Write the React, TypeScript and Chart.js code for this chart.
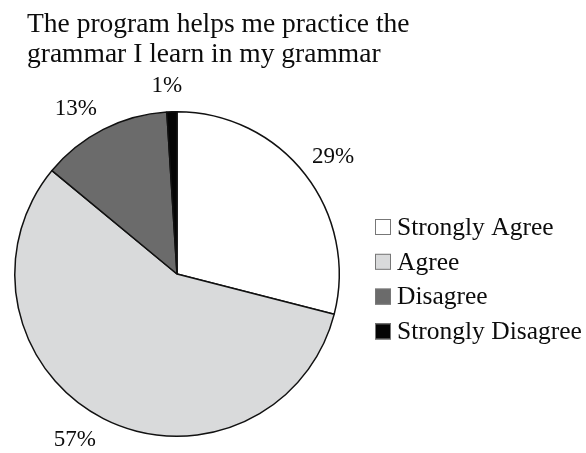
import React, { useEffect, useRef } from "react";
import { Chart, registerables } from "chart.js";

Chart.register(...registerables);

const titleLines = ["The program helps me practice the", "grammar I learn in my grammar"];
const categories = ["Strongly Agree", "Agree", "Disagree", "Strongly Disagree"];
const percentages = [29, 57, 13, 1];
const sliceColors = ["#ffffff", "#d9dadb", "#6b6b6b", "#050505"];

const SERIF = '"Liberation Serif", "Times New Roman", serif';
// label placement tweaks (px), purely presentational
const labelNudges: [number, number][] = [
  [1, 3],
  [-13, -9],
  [-12, 10],
  [-4, 8],
];

const overlayPlugin = {
  id: "overlay",
  afterDraw(chart: any) {
    const ctx = chart.ctx as CanvasRenderingContext2D;
    ctx.save();
    // title
    ctx.fillStyle = "#0c0c0c";
    ctx.font = `27.5px ${SERIF}`;
    ctx.textAlign = "left";
    ctx.textBaseline = "alphabetic";
    titleLines.forEach((line, i) => ctx.fillText(line, 27, 32 + i * 30));

    // percentage labels
    const meta = chart.getDatasetMeta(0);
    ctx.font = `23px ${SERIF}`;
    ctx.textAlign = "center";
    ctx.textBaseline = "middle";
    meta.data.forEach((arc: any, i: number) => {
      const { x, y, startAngle, endAngle, outerRadius } = arc.getProps(
        ["x", "y", "startAngle", "endAngle", "outerRadius"],
        true
      );
      const mid = (startAngle + endAngle) / 2;
      const r = outerRadius + 34;
      const [nx, ny] = labelNudges[i] || [0, 0];
      ctx.fillText(
        `${chart.data.datasets[0].data[i]}%`,
        x + Math.cos(mid) * r + nx,
        y + Math.sin(mid) * r + ny
      );
    });

    // legend
    ctx.font = `25.5px ${SERIF}`;
    ctx.textAlign = "left";
    ctx.textBaseline = "middle";
    const lx = 375;
    const ly = 219;
    const step = 34.8;
    const box = 16;
    chart.data.labels.forEach((lab: string, i: number) => {
      const top = ly + i * step;
      ctx.fillStyle = sliceColors[i];
      ctx.fillRect(lx, top, box, box);
      ctx.strokeStyle = "#777";
      ctx.lineWidth = 1;
      ctx.strokeRect(lx + 0.5, top + 0.5, box - 1, box - 1);
      ctx.fillStyle = "#0c0c0c";
      ctx.fillText(lab, lx + box + 6, top + box / 2 + 1);
    });
    ctx.restore();
  },
};

export default function App() {
  const ref = useRef<HTMLCanvasElement | null>(null);
  useEffect(() => {
    if (!ref.current) return;
    const chart = new Chart(ref.current, {
      type: "pie",
      data: {
        labels: categories,
        datasets: [
          {
            data: percentages,
            backgroundColor: sliceColors,
            borderColor: "#111",
            borderWidth: 1.5,
          },
        ],
      },
      options: {
        responsive: true,
        maintainAspectRatio: false,
        animation: false,
        layout: { padding: { left: 14, top: 111, right: 246, bottom: 16 } },
        plugins: {
          legend: { display: false },
          title: { display: false },
          tooltip: { enabled: false },
        },
      },
      plugins: [overlayPlugin],
    });
    return () => chart.destroy();
  }, []);
  return (
    <div style={{ position: "fixed", left: 0, top: 0, width: 586, height: 453, background: "#fff" }}>
      <canvas ref={ref} />
    </div>
  );
}
